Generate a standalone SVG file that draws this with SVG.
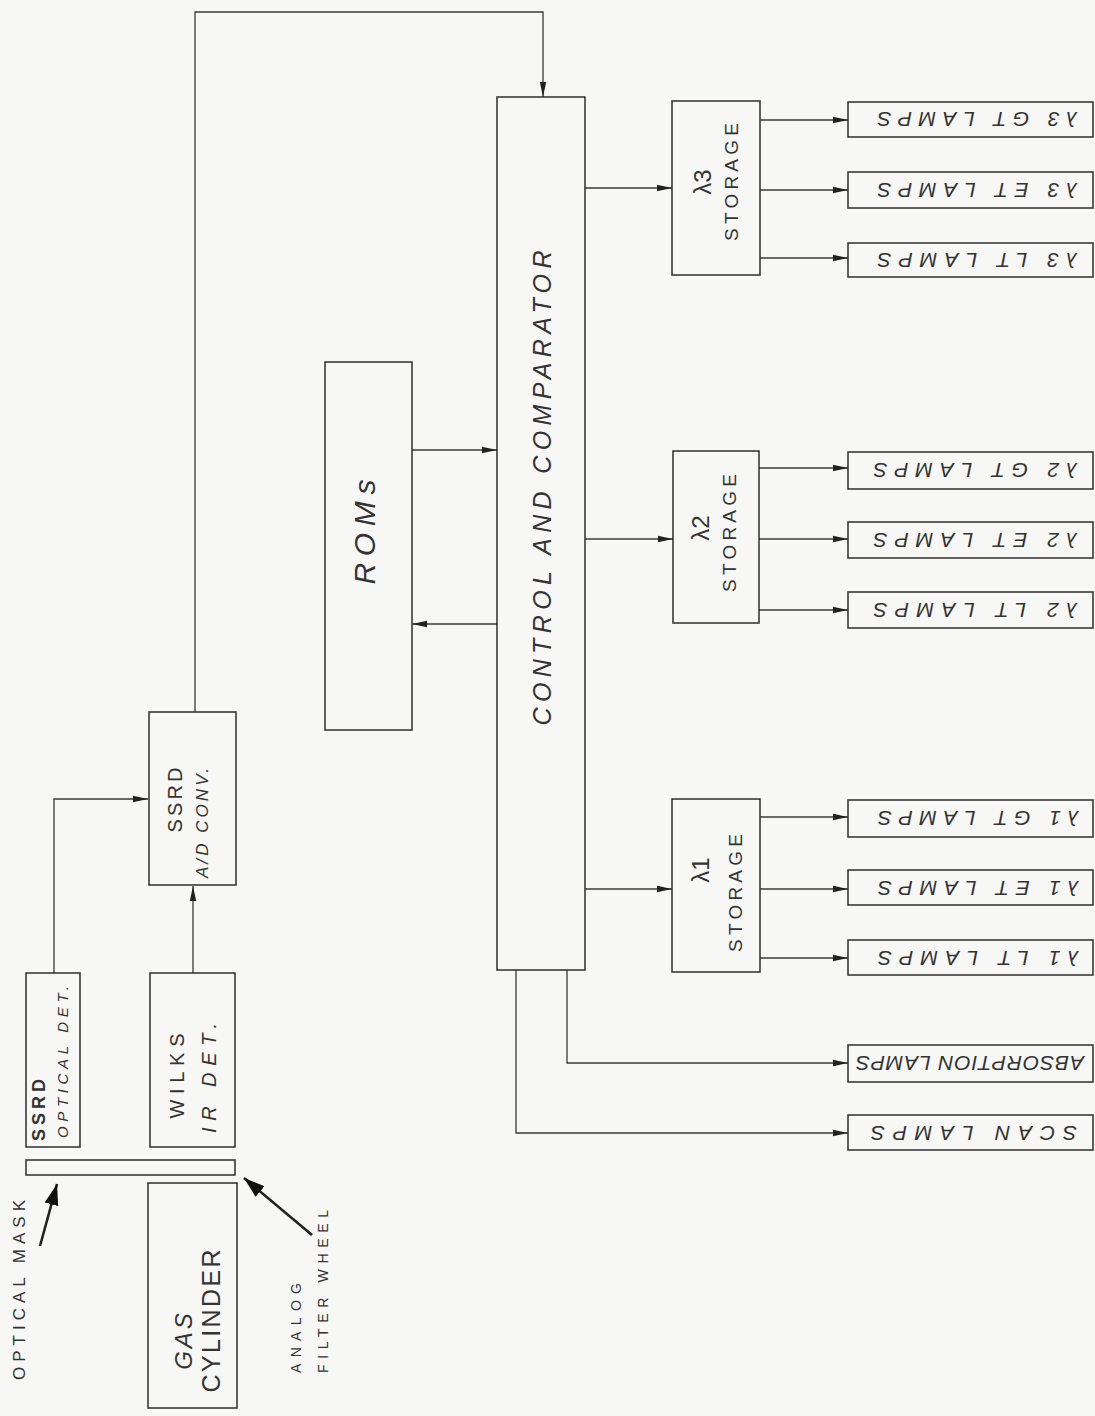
<svg xmlns="http://www.w3.org/2000/svg" width="1095" height="1416" viewBox="0 0 1095 1416">
<style>
.box{fill:none;stroke:#2e2e2e;stroke-width:1.5}
.ln{fill:none;stroke:#3a3a3a;stroke-width:1.3}
.big{fill:none;stroke:#222;stroke-width:2.6}
.t{font-family:"Liberation Sans","DejaVu Sans",sans-serif;fill:#333;text-anchor:middle;dominant-baseline:central}
.lamp{font-size:21px;font-style:italic}
.st{font-size:19px}
</style>
<defs>
<marker id="ah" markerUnits="userSpaceOnUse" markerWidth="16" markerHeight="8" refX="15" refY="4" orient="auto">
<path d="M0,0.8 L15,4 L0,7.2 z" fill="#222"/>
</marker>
<marker id="bh" markerUnits="userSpaceOnUse" markerWidth="22" markerHeight="16" refX="21" refY="8" orient="auto">
<path d="M0,1 L21,8 L0,15 z" fill="#111"/>
</marker>
</defs>
<rect x="0" y="0" width="1095" height="1416" fill="#f7f7f5"/>

<g id="connectors">
<path class="ln" d="M54,973 V799 H148" marker-end="url(#ah)"/>
<path class="ln" d="M193,973 V886" marker-end="url(#ah)"/>
<path class="ln" d="M195,712 V12 H543 V97" marker-end="url(#ah)"/>
<path class="ln" d="M412,450 H497" marker-end="url(#ah)"/>
<path class="ln" d="M497,624 H412" marker-end="url(#ah)"/>
<path class="ln" d="M585,188 H672" marker-end="url(#ah)"/>
<path class="ln" d="M585,539 H673" marker-end="url(#ah)"/>
<path class="ln" d="M585,889 H672" marker-end="url(#ah)"/>
<path class="ln" d="M760,120 H848" marker-end="url(#ah)"/>
<path class="ln" d="M760,190 H848" marker-end="url(#ah)"/>
<path class="ln" d="M760,258 H848" marker-end="url(#ah)"/>
<path class="ln" d="M759,468 H848" marker-end="url(#ah)"/>
<path class="ln" d="M759,539 H848" marker-end="url(#ah)"/>
<path class="ln" d="M759,610 H848" marker-end="url(#ah)"/>
<path class="ln" d="M760,817 H848" marker-end="url(#ah)"/>
<path class="ln" d="M760,889 H848" marker-end="url(#ah)"/>
<path class="ln" d="M760,958 H848" marker-end="url(#ah)"/>
<path class="ln" d="M567,970 V1063 H848" marker-end="url(#ah)"/>
<path class="ln" d="M516,970 V1133 H848" marker-end="url(#ah)"/>
<path class="big" d="M40,1246 L57,1184" marker-end="url(#bh)"/>
<path class="big" d="M312,1235 L244,1178" marker-end="url(#bh)"/>
</g>

<g id="gas-cylinder">
<rect class="box" x="148" y="1183" width="89" height="225"/>
<text class="t" font-size="24" transform="rotate(-90 183 1340)" x="183" y="1340" font-style="italic" letter-spacing="3">GAS</text>
<text class="t" font-size="25" transform="rotate(-90 211 1321)" x="211" y="1321" textLength="143" lengthAdjust="spacing">CYLINDER</text>
</g>

<g id="optical-mask">
<rect class="box" x="26" y="1160" width="209" height="15"/>
</g>
<g id="optical-mask-label">
<text class="t" font-size="17" transform="rotate(-90 19 1290)" x="19" y="1290" textLength="180" lengthAdjust="spacing">OPTICAL MASK</text>
</g>
<g id="filter-wheel-label">
<text class="t" font-size="14" transform="rotate(-90 296 1373)" x="296" y="1373" style="text-anchor:start" textLength="90" lengthAdjust="spacing">ANALOG</text>
<text class="t" font-size="14" transform="rotate(-90 323 1373)" x="323" y="1373" style="text-anchor:start" textLength="163" lengthAdjust="spacing">FILTER WHEEL</text>
</g>

<g id="ssrd-optical-det">
<rect class="box" x="26" y="973" width="54" height="174"/>
<text class="t" font-size="18" font-weight="bold" transform="rotate(-90 39 1110)" x="39" y="1110" textLength="62" lengthAdjust="spacing">SSRD</text>
<text class="t" font-size="15" font-style="italic" transform="rotate(-90 62 1062)" x="62" y="1062" textLength="152" lengthAdjust="spacing">OPTICAL DET.</text>
</g>

<g id="wilks-ir-det">
<rect class="box" x="150" y="973" width="85" height="174"/>
<text class="t" font-size="20" transform="rotate(-90 177 1076)" x="177" y="1076" textLength="85" lengthAdjust="spacing">WILKS</text>
<text class="t" font-size="20" font-style="italic" transform="rotate(-90 209 1078)" x="209" y="1078" textLength="110" lengthAdjust="spacing">IR DET.</text>
</g>

<g id="ssrd-ad-conv">
<rect class="box" x="149" y="712" width="87" height="173"/>
<text class="t" font-size="20" transform="rotate(-90 175 800)" x="175" y="800" textLength="65" lengthAdjust="spacing">SSRD</text>
<text class="t" font-size="17" font-style="italic" transform="rotate(-90 202 823)" x="202" y="823" textLength="110" lengthAdjust="spacing">A/D CONV.</text>
</g>

<g id="roms">
<rect class="box" x="325" y="362" width="87" height="368"/>
<text class="t" font-size="30" font-style="italic" transform="rotate(-90 364 532)" x="364" y="532" textLength="105" lengthAdjust="spacing">ROMs</text>
</g>

<g id="control-comparator">
<rect class="box" x="497" y="97" width="88" height="873"/>
<text class="t" font-size="25" font-style="italic" transform="rotate(-90 542 488)" x="542" y="488" textLength="475" lengthAdjust="spacing">CONTROL AND COMPARATOR</text>
</g>

<g id="l3-storage">
<rect class="box" x="672" y="101" width="88" height="174"/>
<text class="t" font-size="24" transform="rotate(-90 702 182)" x="702" y="182">λ3</text>
<text class="t st" transform="rotate(-90 731 182)" x="731" y="182" textLength="118" lengthAdjust="spacing">STORAGE</text>
</g>
<g id="l2-storage">
<rect class="box" x="673" y="451" width="86" height="172"/>
<text class="t" font-size="24" transform="rotate(-90 700 528)" x="700" y="528">λ2</text>
<text class="t st" transform="rotate(-90 729 533)" x="729" y="533" textLength="118" lengthAdjust="spacing">STORAGE</text>
</g>
<g id="l1-storage">
<rect class="box" x="672" y="799" width="88" height="173"/>
<text class="t" font-size="24" transform="rotate(-90 700 870)" x="700" y="870">λ1</text>
<text class="t st" transform="rotate(-90 735 893)" x="735" y="893" textLength="118" lengthAdjust="spacing">STORAGE</text>
</g>

<g id="l3-gt-lamps">
<rect class="box" x="848" y="102" width="245" height="35"/>
<text class="t lamp" transform="rotate(180 977 119)" x="977" y="119" textLength="199" lengthAdjust="spacing">λ3 GT LAMPS</text>
</g>
<g id="l3-et-lamps">
<rect class="box" x="848" y="172" width="245" height="36"/>
<text class="t lamp" transform="rotate(180 977 190)" x="977" y="190" textLength="199" lengthAdjust="spacing">λ3 ET LAMPS</text>
</g>
<g id="l3-lt-lamps">
<rect class="box" x="848" y="243" width="245" height="34"/>
<text class="t lamp" transform="rotate(180 977 260)" x="977" y="260" textLength="199" lengthAdjust="spacing">λ3 LT LAMPS</text>
</g>
<g id="l2-gt-lamps">
<rect class="box" x="848" y="452" width="245" height="37"/>
<text class="t lamp" transform="rotate(180 975 470)" x="975" y="470" textLength="203" lengthAdjust="spacing">λ2 GT LAMPS</text>
</g>
<g id="l2-et-lamps">
<rect class="box" x="848" y="522" width="245" height="36"/>
<text class="t lamp" transform="rotate(180 975 540)" x="975" y="540" textLength="203" lengthAdjust="spacing">λ2 ET LAMPS</text>
</g>
<g id="l2-lt-lamps">
<rect class="box" x="848" y="592" width="245" height="36"/>
<text class="t lamp" transform="rotate(180 975 610)" x="975" y="610" textLength="203" lengthAdjust="spacing">λ2 LT LAMPS</text>
</g>
<g id="l1-gt-lamps">
<rect class="box" x="848" y="800" width="245" height="37"/>
<text class="t lamp" transform="rotate(180 978 818)" x="978" y="818" textLength="200" lengthAdjust="spacing">λ1 GT LAMPS</text>
</g>
<g id="l1-et-lamps">
<rect class="box" x="848" y="870" width="245" height="35"/>
<text class="t lamp" transform="rotate(180 978 888)" x="978" y="888" textLength="200" lengthAdjust="spacing">λ1 ET LAMPS</text>
</g>
<g id="l1-lt-lamps">
<rect class="box" x="848" y="940" width="245" height="35"/>
<text class="t lamp" transform="rotate(180 978 958)" x="978" y="958" textLength="200" lengthAdjust="spacing">λ1 LT LAMPS</text>
</g>
<g id="absorption-lamps">
<rect class="box" x="848" y="1045" width="245" height="37"/>
<text class="t lamp" font-size="18" transform="rotate(180 970 1063)" x="970" y="1063" textLength="228" lengthAdjust="spacing">ABSORPTION LAMPS</text>
</g>
<g id="scan-lamps">
<rect class="box" x="848" y="1115" width="245" height="35"/>
<text class="t lamp" transform="rotate(180 974 1133)" x="974" y="1133" textLength="206" lengthAdjust="spacing">SCAN LAMPS</text>
</g>
</svg>
